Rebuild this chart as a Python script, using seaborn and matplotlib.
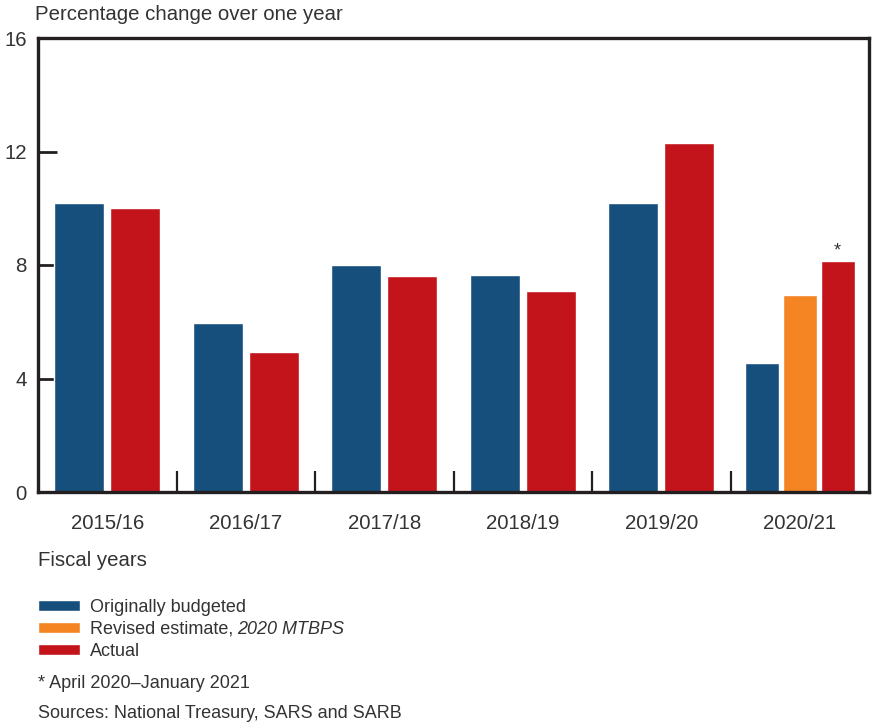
import matplotlib
matplotlib.use("Agg")
import matplotlib.pyplot as plt
from matplotlib.ticker import FixedLocator
import pandas as pd
import seaborn as sns

# Fiscal years and growth in revenue (percentage change over one year)
years = ["2015/16", "2016/17", "2017/18", "2018/19", "2019/20", "2020/21"]
originally_budgeted = [10.2, 5.95, 8.0, 7.65, 10.2, 4.55]
revised_estimate = [6.95]          # 2020 MTBPS, 2020/21 only
actual = [10.0, 4.93, 7.6, 7.1, 12.3, 8.14]

series_names = ["Originally budgeted", "Revised estimate", "Actual"]
colors = {"Originally budgeted": "#174f7c",
          "Revised estimate": "#f58523",
          "Actual": "#c3131b"}
yticks = [0, 4, 8, 12, 16]

sns.set_theme(style="white")
plt.rcParams["font.family"] = ["Liberation Sans", "DejaVu Sans"]

text_col = "#333333"
frame_col = "#231f20"
big = 14.7
small = 13

# Two-series years and the three-series final year
df_pair = pd.DataFrame({
    "year": years[:-1] * 2,
    "series": ["Originally budgeted"] * 5 + ["Actual"] * 5,
    "value": originally_budgeted[:-1] + actual[:-1],
})
df_last = pd.DataFrame({
    "year": [years[-1]] * 3,
    "series": series_names,
    "value": [originally_budgeted[-1], revised_estimate[0], actual[-1]],
})

fig = plt.figure(figsize=(8.75, 7.24), dpi=100)
ax = fig.add_axes([38 / 875, 1 - 492 / 724, 831 / 875, 454 / 724])

sns.barplot(data=df_pair, x="year", y="value", hue="series", order=years,
            hue_order=["Originally budgeted", "Actual"], palette=colors,
            width=0.81, gap=0.107, saturation=1, legend=False, ax=ax)
sns.barplot(data=df_last, x="year", y="value", hue="series", order=years,
            hue_order=series_names, palette=colors,
            width=0.82, gap=0.1, saturation=1, legend=True, ax=ax)

leg = ax.get_legend()
handles = list(leg.legend_handles)
leg.remove()

ax.set_xlim(-0.5, len(years) - 0.5)
ax.set_ylim(0, 16)
ax.set_yticks(yticks)
ax.set_xlabel("")
ax.set_ylabel("")

for sp in ax.spines.values():
    sp.set_visible(True)
    sp.set_color(frame_col)
    sp.set_linewidth(2.4)

ax.tick_params(axis="x", which="major", length=0, pad=16,
               labelsize=big, labelcolor=text_col)
ax.xaxis.set_minor_locator(FixedLocator([i + 0.5 for i in range(len(years) - 1)]))
ax.tick_params(axis="x", which="minor", direction="in", length=15,
               width=1.6, color=frame_col, bottom=True)
ax.tick_params(axis="y", direction="in", length=14, width=2, color=frame_col,
               left=True, pad=8, labelsize=big, labelcolor=text_col)

# Asterisk over the 2020/21 actual bar
last_bar = max(ax.patches, key=lambda p: p.get_x())
ax.text(last_bar.get_x() + last_bar.get_width() / 2, last_bar.get_height() + 0.05,
        "*", ha="center", va="bottom", fontsize=13, color=text_col)

fig.text(35 / 875, 1 - 14 / 724, "Percentage change over one year",
         ha="left", va="center", fontsize=big, color=text_col)
fig.text(38 / 875, 1 - 561 / 724, "Fiscal years",
         ha="left", va="center", fontsize=big, color=text_col)

labels = ["Originally budgeted", "Revised estimate,", "Actual"]
legend = fig.legend(handles, labels, loc="upper left",
                    bbox_to_anchor=(31 / 875, 1 - 592 / 724), frameon=False,
                    handlelength=2.3, handleheight=0.55, handletextpad=0.55,
                    labelspacing=0.26, fontsize=small, labelcolor=text_col,
                    borderaxespad=0)

# Italic publication name after the second legend label
fig.canvas.draw()
renderer = fig.canvas.get_renderer()
lab = legend.get_texts()[1]
bb = lab.get_window_extent(renderer)
x0, y0 = fig.transFigure.inverted().transform((bb.x1 + 4, (bb.y0 + bb.y1) / 2))
fig.text(x0, y0, "2020 MTBPS", ha="left", va="center", fontsize=small,
         style="italic", color=text_col)

fig.text(38 / 875, 1 - 683 / 724, "* April 2020\u2013January 2021",
         ha="left", va="center", fontsize=small, color=text_col)
fig.text(38 / 875, 1 - 713 / 724, "Sources: National Treasury, SARS and SARB",
         ha="left", va="center", fontsize=small, color=text_col)

fig.savefig("out.png", dpi=100)
